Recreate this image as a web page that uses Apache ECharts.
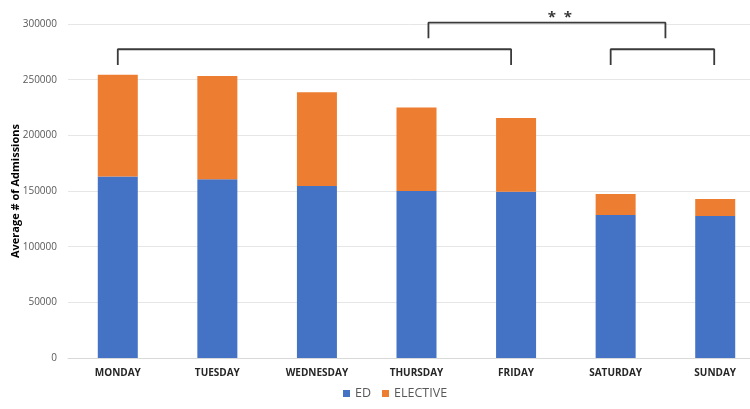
<!DOCTYPE html>
<html><head><meta charset="utf-8">
<script src="https://cdn.jsdelivr.net/npm/echarts@6/dist/echarts.min.js"></script>
<style>html,body{margin:0;padding:0;background:#fff}#c{width:750px;height:409px}</style>
</head><body><div id="c"></div>
<script>
var days = ['MONDAY','TUESDAY','WEDNESDAY','THURSDAY','FRIDAY','SATURDAY','SUNDAY'];
var edValues = [163000, 160500, 154500, 150000, 149400, 128400, 127500];
var electiveValues = [91500, 92800, 84100, 75000, 66200, 18900, 15300];
var yTicks = [0, 50000, 100000, 150000, 200000, 250000, 300000];
// significance brackets (positions in category units, values in admissions)
var bracket1 = [[0, 263200], [0, 277300], [3.95, 277300], [3.95, 263200]];
var bracket2 = [[3.12, 287300], [3.12, 301200], [5.5, 301200], [5.5, 287300]];
var bracket3 = [[4.95, 263200], [4.95, 277300], [5.99, 277300], [5.99, 263200]];
var starMark = [[4.44, 305500]];

var chart = echarts.init(document.getElementById('c'));
var bracketStyle = {color:'#3a3a3a', width:1.8};
function bracketSeries(d){
  return {type:'line', xAxisIndex:1, data:d, symbol:'none', clip:false, silent:true,
    lineStyle:bracketStyle, z:5};
}
chart.setOption({
  animation:false,
  textStyle:{fontFamily:'"Open Sans", "Noto Sans", sans-serif'},
  grid:{left:68, top:24, width:697, bottom:51, outerBoundsMode:'none', containLabel:false},
  legend:{data:['ED','ELECTIVE'], bottom:4, left:338, itemWidth:7, itemHeight:7, itemGap:11,
    icon:'rect', textStyle:{fontSize:12.5, color:'#595959'}},
  xAxis:[{type:'category', data:days, axisTick:{show:false},
    axisLine:{lineStyle:{color:'#d9d9d9'}},
    axisLabel:{fontSize:10, fontWeight:'bold', color:'#262626', margin:10}},
   {type:'value', min:-0.5, max:6.5, show:false}],
  yAxis:{type:'value', min:0, max:300000, interval:50000,
    name:'Average # of Admissions', nameLocation:'middle', nameGap:47, nameMoveOverlap:false,
    nameTextStyle:{fontSize:11, fontWeight:'bold', color:'#000'},
    axisLine:{show:false, onZero:false}, axisTick:{show:false},
    axisLabel:{fontSize:10, color:'#595959', margin:11, formatter:function(v){return yTicks.indexOf(v)>=0?String(v):'';}},
    splitLine:{lineStyle:{color:'#e6e6e6'}}},
  series:[
    {name:'ED', type:'bar', stack:'t', data:edValues, barWidth:40, itemStyle:{color:'#4472C4'}},
    {name:'ELECTIVE', type:'bar', stack:'t', data:electiveValues, barWidth:40, itemStyle:{color:'#ED7D31'}},
    bracketSeries(bracket1), bracketSeries(bracket2), bracketSeries(bracket3),
    {type:'scatter', xAxisIndex:1, data:starMark, symbolSize:0, clip:false, silent:true,
      label:{show:true, position:'inside', formatter:'*  *', fontSize:15, fontWeight:'bold', color:'#000'}}
  ]
});
</script></body></html>
